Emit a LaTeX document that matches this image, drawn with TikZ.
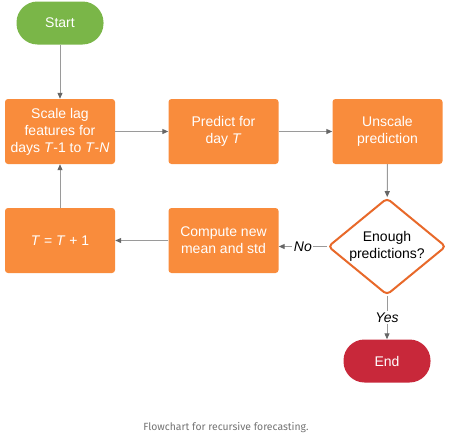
\documentclass[tikz,border=0pt]{standalone}
\usepackage{fontspec}
\setmainfont{Liberation Sans}
\newfontfamily\captionfont{Fira Sans}
\usetikzlibrary{arrows.meta, shapes.geometric}

\definecolor{boxorange}{HTML}{F98C3C}
\definecolor{startgreen}{HTML}{7AB648}
\definecolor{endred}{HTML}{C8283A}
\definecolor{edgeorange}{HTML}{E8692A}
\definecolor{linegray}{HTML}{9A9A9A}
\definecolor{tipgray}{HTML}{666666}

\begin{document}
\begin{tikzpicture}[x=1pt,y=-1pt,
		task/.style={rectangle,fill=boxorange,rounded corners=3pt,minimum width=110pt,minimum height=65pt,
			align=center,text=white,font=\fontsize{14}{17}\selectfont,inner sep=1pt},
		terminal/.style={rectangle,rounded corners=21pt,minimum width=87pt,minimum height=43pt,
			text=white,font=\fontsize{14}{17}\selectfont},
		decision/.style={diamond,draw=edgeorange,line width=2pt,fill=white,rounded corners=4pt,aspect=1.23,
			minimum width=118pt,minimum height=97pt,inner sep=0pt,align=center,font=\fontsize{14}{17}\selectfont},
		flow/.style={draw=linegray,line width=1pt,-{Triangle[length=6pt,width=5pt,color=tipgray]}},
		lbl/.style={fill=white,inner sep=1.5pt,font=\fontsize{14}{17}\selectfont\itshape}
	]
	
	% Frame
	\useasboundingbox (0,0) rectangle (455,442);
	
	% Nodes
	\node[terminal,fill=startgreen] (start) at (60,23) {Start};
	\node[task] (scale) at (60,131.5) {Scale lag\\features for\\days \textit{T}-1 to \textit{T}-\textit{N}};
	\node[task] (predict) at (223.5,131.5) {Predict for\\day \textit{T}};
	\node[task] (unscale) at (387.5,131.5) {Unscale\\prediction};
	\node[decision] (enough) at (387,246.5) {Enough\\predictions?};
	\node[task] (compute) at (223.5,240.5) {Compute new\\mean and std};
	\node[task] (incr) at (60,240.5) {\textit{T} = \textit{T} + 1};
	\node[terminal,fill=endred] (end) at (387,361) {End};
	
	% Connectors
	\draw[flow] (start) -- (scale);
	\draw[flow] (scale) -- (predict);
	\draw[flow] (predict) -- (unscale);
	\draw[flow] (unscale) -- (enough);
	\draw[flow] (enough.west) -- (enough.west -| compute.east) node[lbl,midway] {No};
	\draw[flow] (compute) -- (incr);
	\draw[flow] (incr) -- (scale);
	\draw[flow] (enough) -- (end) node[lbl,midway] {Yes};
	
	% Caption
	\node[text=black!55,font=\captionfont\fontsize{10.4}{12}\selectfont] (caption) at (226,428) {Flowchart for recursive forecasting.};
	
\end{tikzpicture}
\end{document}
